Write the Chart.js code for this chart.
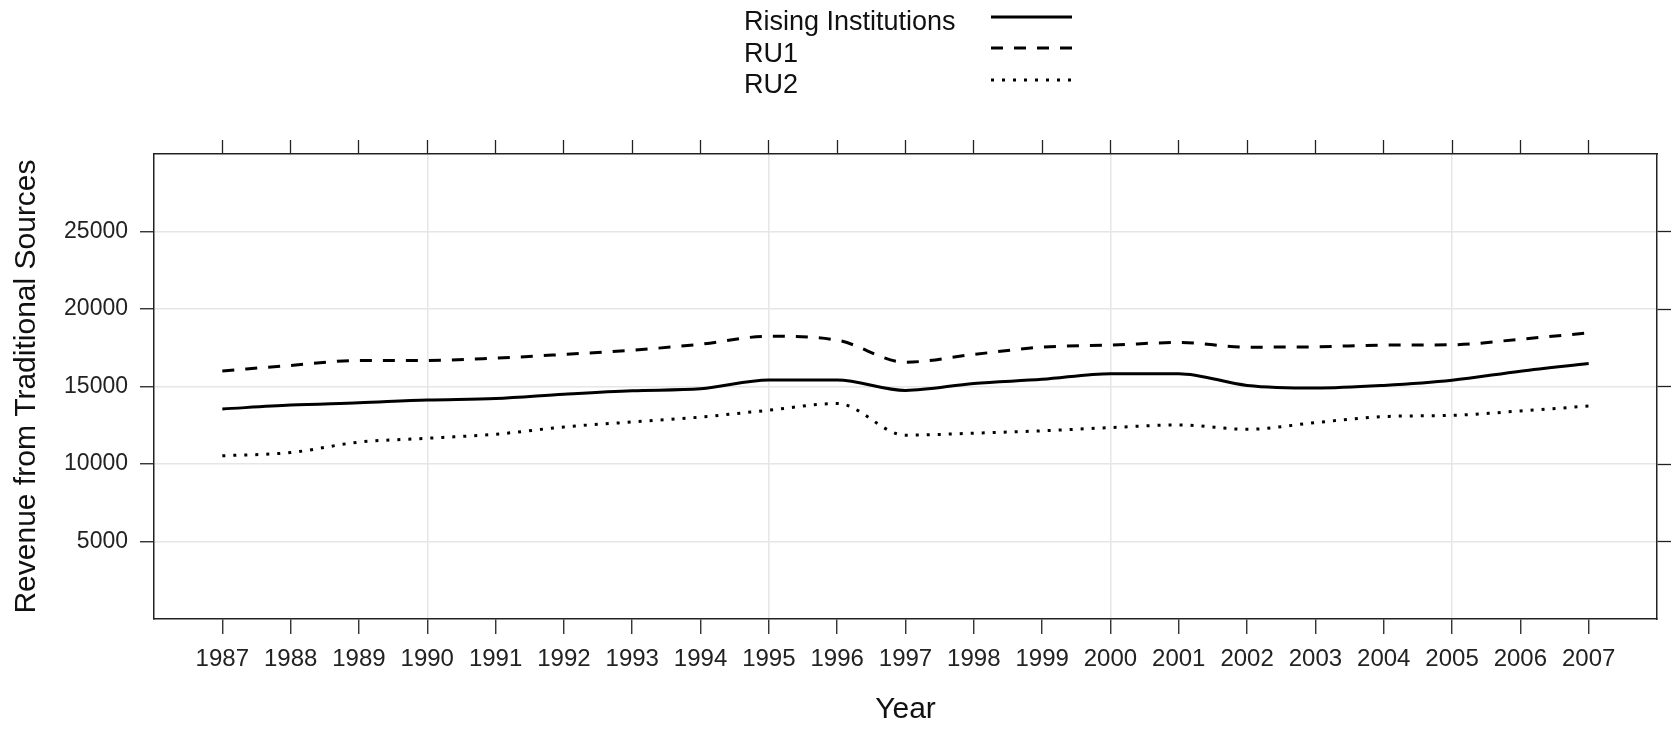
<!DOCTYPE html>
<html>
<head>
<meta charset="utf-8">
<script src="https://cdn.jsdelivr.net/npm/chart.js@4/dist/chart.umd.min.js"></script>
<style>
  html, body { margin: 0; padding: 0; background: #fff; }
  #wrap { position: relative; width: 1671px; height: 730px; }
  #legend { position: absolute; left: 0; top: 0; width: 100%; height: 110px;
            font-family: "Liberation Sans", Arial, sans-serif; font-size: 27px; color: #111; }
  .lg-text { position: absolute; left: 744px; line-height: 32px; white-space: nowrap; }
  .lg-line { position: absolute; left: 991px; }
</style>
</head>
<body>
<div id="wrap">
  <canvas id="c" width="1671" height="730"></canvas>
  <div id="legend"></div>
</div>
<script>
// Annual revenue from traditional sources, by institution group
const years = [1987, 1988, 1989, 1990, 1991, 1992, 1993, 1994, 1995, 1996, 1997,
               1998, 1999, 2000, 2001, 2002, 2003, 2004, 2005, 2006, 2007];
const risingInstitutions = [13550, 13800, 13950, 14130, 14220, 14500, 14730, 14850, 15420, 15420, 14750,
                            15200, 15460, 15830, 15830, 15070, 14900, 15070, 15400, 15990, 16490];
const ru1 = [16000, 16360, 16680, 16680, 16830, 17070, 17340, 17730, 18240, 17990, 16570,
             17070, 17540, 17670, 17840, 17540, 17560, 17670, 17690, 18050, 18460];
const ru2 = [10530, 10740, 11410, 11660, 11920, 12390, 12710, 13030, 13470, 13900, 11860,
             11990, 12140, 12350, 12520, 12240, 12670, 13060, 13140, 13420, 13740];
const yTickValues = [5000, 10000, 15000, 20000, 25000];
const seriesNames = ['Rising Institutions', 'RU1', 'RU2'];
const xAxisTitle = 'Year';
const yAxisTitle = 'Revenue from Traditional Sources';

const INK = '#222';
const GRID = '#e6e6e6';
const FONT = '"Liberation Sans", Arial, sans-serif';

const toPoints = vals => years.map((yr, i) => ({ x: yr, y: vals[i] }));

function line(label, vals, dash) {
  return {
    label,
    data: toPoints(vals),
    borderColor: '#000',
    backgroundColor: '#000',
    borderWidth: 3,
    borderDash: dash,
    borderCapStyle: 'butt',
    pointRadius: 0,
    cubicInterpolationMode: 'monotone',
    fill: false
  };
}

const setYearTicks = axis => { axis.ticks = years.map(v => ({ value: v })); };
const setValueTicks = axis => { axis.ticks = yTickValues.map(v => ({ value: v })); };

const chart = new Chart(document.getElementById('c'), {
  type: 'line',
  data: {
    datasets: [
      line(seriesNames[0], risingInstitutions, []),
      line(seriesNames[1], ru1, [12, 11]),
      line(seriesNames[2], ru2, [3, 8])
    ]
  },
  options: {
    responsive: false,
    devicePixelRatio: 1,
    animation: false,
    layout: { padding: 0 },
    plugins: { legend: { display: false }, tooltip: { enabled: false } },
    scales: {
      x: {
        type: 'linear', position: 'bottom', min: 1986, max: 2008,
        afterBuildTicks: setYearTicks,
        afterFit: a => { a.height = 111; },
        border: { color: INK, width: 1.5 },
        grid: {
          color: c => (c.tick && c.tick.value % 5 === 0) ? GRID : 'rgba(0,0,0,0)',
          lineWidth: 1.5, tickLength: 15, tickColor: INK, tickWidth: 1.3
        },
        ticks: {
          autoSkip: false, maxRotation: 0, padding: 11, color: INK,
          font: { family: '"Liberation Sans Narrow", ' + FONT, size: 24 },
          callback: v => String(v)
        },
        title: {
          display: true, text: xAxisTitle, color: '#111',
          font: { family: FONT, size: 30 }, padding: { top: 0, bottom: 2 }
        }
      },
      x2: {
        type: 'linear', position: 'top', min: 1986, max: 2008,
        afterBuildTicks: setYearTicks,
        afterFit: a => { a.height = 154; },
        border: { color: INK, width: 1.5 },
        grid: { drawOnChartArea: false, tickLength: 14, tickColor: INK, tickWidth: 1.3 },
        ticks: { display: false }
      },
      y: {
        type: 'linear', position: 'left', min: 0, max: 30000,
        afterBuildTicks: setValueTicks,
        afterFit: a => { a.width = 154; },
        border: { color: INK, width: 1.5 },
        grid: { color: GRID, lineWidth: 1.5, tickLength: 14, tickColor: INK, tickWidth: 1.3 },
        ticks: {
          padding: 12, color: INK,
          font: { family: FONT, size: 23 },
          callback: v => String(v)
        },
        title: {
          display: true, text: yAxisTitle, color: '#111',
          font: { family: FONT, size: 30 }, padding: { top: 9, bottom: 0 }
        }
      },
      y2: {
        type: 'linear', position: 'right', min: 0, max: 30000,
        afterBuildTicks: setValueTicks,
        afterFit: a => { a.width = 14; },
        border: { color: INK, width: 1.5 },
        grid: { drawOnChartArea: false, tickLength: 14, tickColor: INK, tickWidth: 1.3 },
        ticks: { display: false }
      }
    }
  }
});

// Legend: names in one column, line samples in a second column
(function buildLegend() {
  const box = document.getElementById('legend');
  const rowGap = 31.7;
  chart.data.datasets.forEach((ds, i) => {
    const t = document.createElement('div');
    t.className = 'lg-text';
    t.style.top = (5 + i * rowGap) + 'px';
    t.textContent = ds.label;
    box.appendChild(t);

    const cy = 16.7 + i * rowGap;
    const ns = 'http://www.w3.org/2000/svg';
    const svg = document.createElementNS(ns, 'svg');
    svg.setAttribute('class', 'lg-line');
    svg.setAttribute('width', '81');
    svg.setAttribute('height', '8');
    svg.style.top = (cy - 4) + 'px';
    const ln = document.createElementNS(ns, 'line');
    ln.setAttribute('x1', '0'); ln.setAttribute('y1', '4');
    ln.setAttribute('x2', '81'); ln.setAttribute('y2', '4');
    ln.setAttribute('stroke', ds.borderColor);
    ln.setAttribute('stroke-width', ds.borderWidth);
    if (ds.borderDash && ds.borderDash.length) ln.setAttribute('stroke-dasharray', ds.borderDash.join(' '));
    svg.appendChild(ln);
    box.appendChild(svg);
  });
})();
</script>
</body>
</html>
